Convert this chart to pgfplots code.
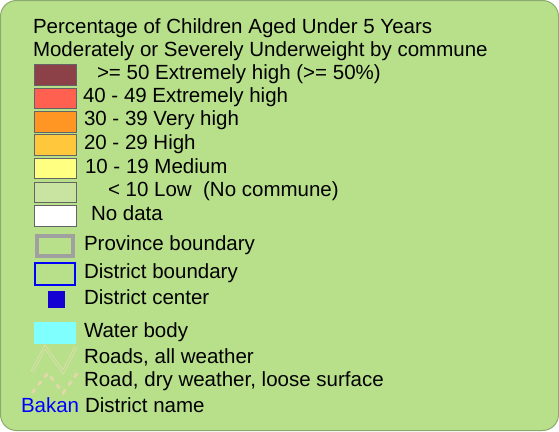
\documentclass[border=0pt]{standalone}
\usepackage{pgfplots}
\pgfplotsset{compat=1.18}
\usepackage{fontspec}
\setmainfont{Liberation Sans}
\definecolor{bg}{RGB}{184,224,138}
\definecolor{bgedge}{RGB}{140,170,110}
\definecolor{cA}{RGB}{140,64,72}
\definecolor{cB}{RGB}{255,96,80}
\definecolor{cC}{RGB}{255,150,35}
\definecolor{cD}{RGB}{255,200,60}
\definecolor{cE}{RGB}{255,255,130}
\definecolor{cF}{RGB}{200,228,160}
\definecolor{sw}{RGB}{100,100,100}
\definecolor{prov}{RGB}{160,160,160}
\definecolor{dist}{RGB}{0,0,255}
\definecolor{dctr}{RGB}{20,0,210}
\definecolor{water}{RGB}{128,255,255}
\definecolor{road}{RGB}{228,222,182}
\definecolor{droad}{RGB}{228,215,170}
\begin{document}
\begin{tikzpicture}[lbl/.style={font=\fontsize{20.5}{22}\selectfont, anchor=base west, inner sep=0pt, outer sep=0pt}]
\begin{axis}[
  scale only axis, width=559pt, height=431pt,
  xmin=0, xmax=559, ymin=0, ymax=431, y dir=reverse,
  hide axis, clip=false,
]
% background
\addplot[fill=bg, draw=bgedge, line width=1pt, rounded corners=16pt] coordinates {(0.5,0.5) (558.5,0.5) (558.5,430.5) (0.5,430.5)} -- cycle;
% class swatches
\addplot[fill=cA, draw=sw, line width=0.8pt] coordinates {(34,64) (76,64) (76,85) (34,85)} -- cycle;
\addplot[fill=cB, draw=sw, line width=0.8pt] coordinates {(34,88) (76,88) (76,108) (34,108)} -- cycle;
\addplot[fill=cC, draw=sw, line width=0.8pt] coordinates {(34,111) (76,111) (76,132) (34,132)} -- cycle;
\addplot[fill=cD, draw=sw, line width=0.8pt] coordinates {(34,134) (76,134) (76,155) (34,155)} -- cycle;
\addplot[fill=cE, draw=sw, line width=0.8pt] coordinates {(34,158) (76,158) (76,178) (34,178)} -- cycle;
\addplot[fill=cF, draw=sw, line width=0.8pt] coordinates {(34,182) (76,182) (76,202) (34,202)} -- cycle;
\addplot[fill=white, draw=sw, line width=0.8pt] coordinates {(34,205) (76,205) (76,226) (34,226)} -- cycle;
% province boundary
\addplot[draw=prov, line width=4pt] coordinates {(37,236) (73,236) (73,256) (37,256)} -- cycle;
% district boundary
\addplot[draw=dist, line width=2pt] coordinates {(35,263) (75,263) (75,285) (35,285)} -- cycle;
% district center
\addplot[only marks, mark=square*, mark size=8, color=dctr] coordinates {(56,299.5)};
% water
\addplot[fill=water, draw=none] coordinates {(34,322) (76,322) (76,344) (34,344)} -- cycle;
% roads all weather
\addplot[draw=road, line width=0.7pt, double=bg, double distance=1.6pt] coordinates {(32,372) (45,347) (63,372) (76,347)};
% road dry weather
\addplot[draw=droad, line width=2.8pt, dash pattern=on 5pt off 5pt] coordinates {(32,393) (48,373) (63,393) (78,372)};
% texts
\node[lbl] at (axis cs:33,33) {Percentage of Children Aged Under 5 Years};
\node[lbl] at (axis cs:33,56) {Moderately or Severely Underweight by commune};
\node[lbl] at (axis cs:97,79) {>= 50 Extremely high (>= 50\%)};
\node[lbl] at (axis cs:83,102) {40 - 49 Extremely high};
\node[lbl] at (axis cs:84,125) {30 - 39 Very high};
\node[lbl] at (axis cs:84,149) {20 - 29 High};
\node[lbl] at (axis cs:85,173) {10 - 19 Medium};
\node[lbl] at (axis cs:108,196) {< 10 Low\ \ (No commune)};
\node[lbl] at (axis cs:91,220) {No data};
\node[lbl] at (axis cs:84,250) {Province boundary};
\node[lbl] at (axis cs:84,278) {District boundary};
\node[lbl] at (axis cs:84,304) {District center};
\node[lbl] at (axis cs:84,337) {Water body};
\node[lbl] at (axis cs:84,363) {Roads, all weather};
\node[lbl] at (axis cs:84,386) {Road, dry weather, loose surface};
\node[lbl, text=dist] at (axis cs:21,412) {Bakan};
\node[lbl] at (axis cs:85,412) {District name};
\end{axis}
\end{tikzpicture}
\end{document}
